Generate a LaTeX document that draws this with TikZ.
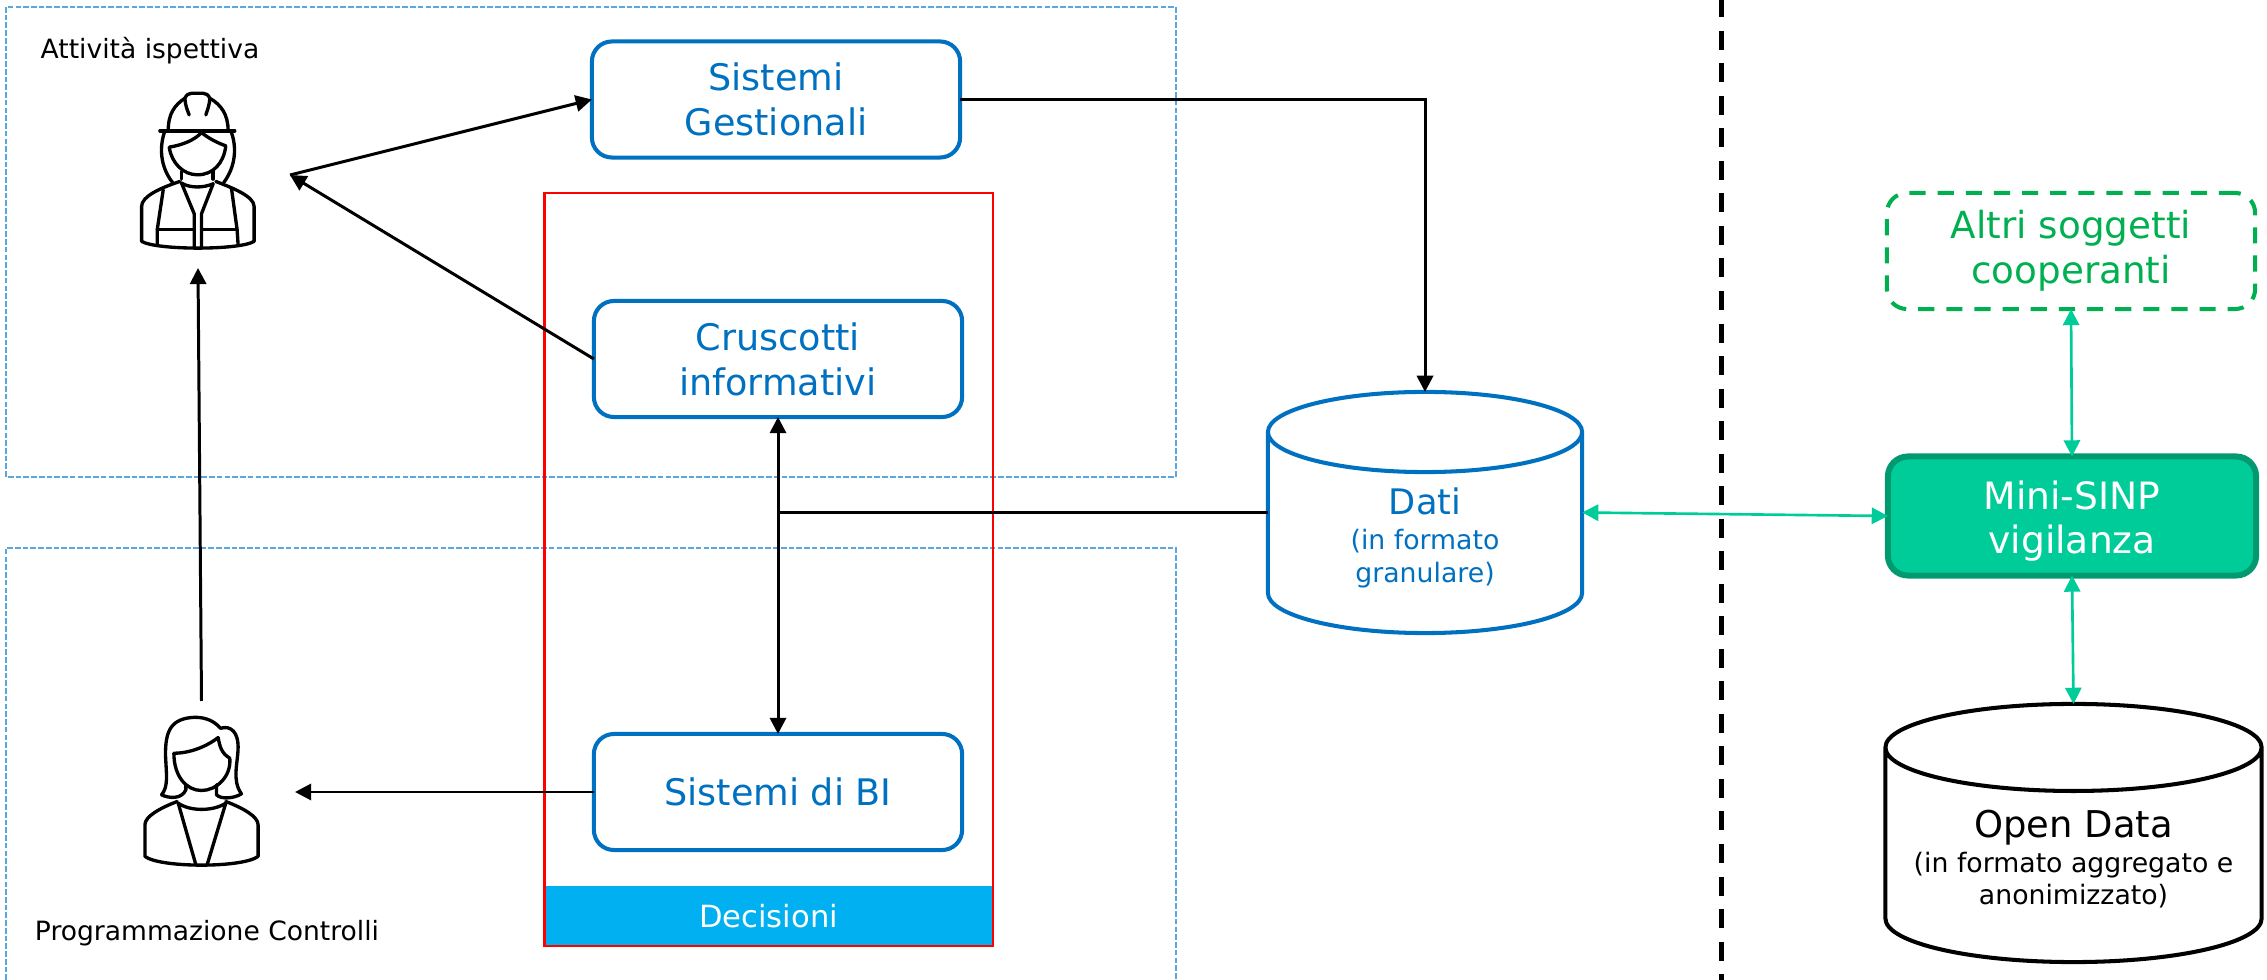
\documentclass[tikz,border=0pt]{standalone}
\usepackage{fontspec}
\setmainfont{DejaVu Sans}
\usepackage{tikz}
\usetikzlibrary{calc,arrows.meta,shapes.geometric,positioning}
\definecolor{sinpblue}{HTML}{0070C0}
\definecolor{zoneblue}{HTML}{5BA7DD}
\definecolor{bandblue}{HTML}{00B0F0}
\definecolor{sinpgreen}{HTML}{00CC99}
\definecolor{sinpdark}{HTML}{009970}
\definecolor{othergreen}{HTML}{00B050}
\newcommand{\dbsmall}{\fontsize{7.6}{9}\selectfont}

\begin{document}
\begin{tikzpicture}[x=0.01cm,y=-0.01cm]

\tikzset{bluenode/.style={font=\fontsize{10.4}{12.8}\selectfont,text=sinpblue,draw=sinpblue,line width=1.15pt,rounded corners=2mm,minimum width=3.68cm,minimum height=1.16cm,inner sep=0pt,outer sep=0pt,align=center,shape=rectangle},
zone/.style={draw=zoneblue,line width=0.4pt,dash pattern=on 1.6pt off 0.6pt},
dbnode/.style={shape=cylinder,shape border rotate=90,anchor=shape center,inner sep=0pt,outer sep=0pt,line width=1.15pt},
dbtext/.style={inner sep=0pt,align=center},
caption/.style={font=\fontsize{7.55}{9}\selectfont,inner sep=0pt},
blackline/.style={line width=0.85pt},
blackarrow/.style={blackline,-{Triangle[length=4.6pt,width=4.6pt]}},
bothways/.style={blackline,{Triangle[length=4.6pt,width=4.6pt]}-{Triangle[length=4.6pt,width=4.6pt]}},
greenway/.style={color=sinpgreen,line width=0.75pt,{Triangle[length=4.6pt,width=4.6pt]}-{Triangle[length=4.6pt,width=4.6pt]}},
iconline/.style={line width=0.95pt,line cap=round,line join=round}}

\useasboundingbox (0,0) rectangle (2267,980);

% Zones
\draw[zone] (6,7) rectangle (1176,477);
\draw[zone] (6,980) -- (6,548) -- (1176,548) -- (1176,980);
\node[caption,anchor=base] (ispettiva) at (150,59) {Attività ispettiva};
\node[caption,anchor=base] (controlli) at (207,940) {Programmazione Controlli};

% Decisions frame
\node[fill=bandblue,text=white,font=\fontsize{8.7}{10}\selectfont,minimum width=4.49cm,minimum height=0.6cm,inner sep=0pt] (decisioni) at (768.5,916) {Decisioni};
\draw[red,line width=0.6pt] (544.5,193) rectangle (993,946);

% Systems
\node[bluenode] (gestionali) at (776,99.5) {Sistemi\\Gestionali};
\node[bluenode] (cruscotti) at (778,359) {Cruscotti\\informativi};
\node[bluenode] (bi) at (778,792) {Sistemi di BI};

% Databases
\node[dbnode,draw=sinpblue,aspect=0.267,minimum width=3.14cm,minimum height=2.41cm] (dati) at (1425,512.5) {\hspace*{3cm}};
\node[dbtext,text=sinpblue,font=\fontsize{10}{12}\selectfont] (datitext) at (1425,538) {Dati\\[-2pt]{\dbsmall (in formato}\\[-2.7pt]{\dbsmall granulare)}};
\node[dbnode,draw=black,aspect=0.2417,minimum width=3.76cm,minimum height=2.58cm] (opendata) at (2073.5,833) {\hspace*{3.6cm}};
\node[dbtext,font=\fontsize{10.5}{12}\selectfont] (opentext) at (2073.5,859) {Open Data\\[-2pt]{\dbsmall (in formato aggregato e}\\[-2.7pt]{\dbsmall anonimizzato)}};

% Right column
\node[draw=sinpdark,fill=sinpgreen,text=white,line width=1.7pt,rounded corners=2mm,minimum width=3.68cm,minimum height=1.19cm,inner sep=0pt,outer sep=0pt,align=center,font=\fontsize{10.7}{12.4}\selectfont] (minisinp) at (2072,516) {\rule{0pt}{11pt}Mini-SINP\\vigilanza};
\node[draw=othergreen,text=othergreen,line width=1.15pt,dash pattern=on 4.6pt off 3.4pt,rounded corners=2mm,minimum width=3.68cm,minimum height=1.16cm,inner sep=0pt,outer sep=0pt,align=center,font=\fontsize{10.6}{12.8}\selectfont] (altri) at (2071,251) {Altri soggetti\\cooperanti};

% Boundary
\coordinate (boundtop) at (1721.5,0);
\coordinate (boundbottom) at (1721.5,980);
\draw[line width=1.3pt,dash pattern=on 5.4pt off 3.85pt,dash phase=0.5pt] (boundtop) -- (boundbottom);

% Worker
\begin{scope}[shift={(100,60)},x=0.00333cm,y=-0.00333cm,iconline]
\draw (180,213) -- (405,213);
\draw (205,213) .. controls (205,160) and (225,135) .. (255,115) .. controls (260,105) and (265,100) .. (275,100) -- (310,100) .. controls (320,100) and (325,105) .. (330,115) .. controls (365,135) and (385,165) .. (385,213);
\draw (255,115) .. controls (256,135) and (262,150) .. (268,165);
\draw (330,115) .. controls (329,135) and (323,150) .. (318,165);
\draw (195,213) .. controls (178,260) and (180,320) .. (218,368);
\draw (393,213) .. controls (412,260) and (408,320) .. (372,368);
\draw (208,262) .. controls (250,255) and (285,240) .. (305,218) .. controls (325,235) and (355,250) .. (378,258) .. controls (372,310) and (340,345) .. (293,345) .. controls (250,345) and (215,310) .. (208,262);
\draw (245,335) -- (245,358); \draw (340,335) -- (340,358);
\draw (245,370) .. controls (270,385) and (310,385) .. (340,372);
\draw (240,365) .. controls (180,385) and (125,410) .. (125,440) -- (125,545) .. controls (170,572) and (420,572) .. (463,545) -- (463,440) .. controls (463,410) and (400,385) .. (348,365);
\draw (190,390) -- (172,510) -- (172,555); \draw (395,385) -- (412,510) -- (415,555);
\draw (245,370) -- (283,462) -- (283,565); \draw (340,372) -- (305,462) -- (305,565);
\draw (172,510) -- (283,510); \draw (305,510) -- (412,510);
\end{scope}
\coordinate (workertip) at (290,175);
\coordinate (workerbase) at (198,268);

% Manager
\begin{scope}[shift={(100,690)},x=0.00333cm,y=-0.00333cm,iconline]
\draw (185,315) .. controls (205,290) and (200,260) .. (197,200) .. controls (195,120) and (215,85) .. (285,82) .. controls (320,82) and (345,95) .. (362,115) .. controls (395,105) and (415,130) .. (415,170) .. controls (415,220) and (395,270) .. (425,312) .. controls (405,325) and (365,330) .. (350,315) -- (350,285);
\draw (185,315) .. controls (205,325) and (245,330) .. (258,300) -- (258,285);
\draw (222,190) .. controls (270,190) and (320,170) .. (355,143) .. controls (360,170) and (365,190) .. (390,205) .. controls (395,260) and (350,302) .. (305,302) .. controls (260,302) and (222,260) .. (222,190);
\draw (235,340) .. controls (270,365) and (340,365) .. (378,340);
\draw (232,335) .. controls (180,355) and (135,380) .. (135,405) -- (135,500) .. controls (180,535) and (430,535) .. (475,500) -- (475,405) .. controls (475,380) and (430,355) .. (378,335);
\draw (235,340) -- (288,525); \draw (378,340) -- (322,525);
\end{scope}
\coordinate (managertop) at (201.5,701);
\coordinate (managertip) at (295,792);

% Edges
\draw[blackarrow] (workertip) -- (gestionali.west);
\draw[blackarrow] (cruscotti.west) -- (workertip);
\draw[blackarrow] (managertop) -- (workerbase);
\draw[blackarrow] (bi.west) -- (managertip);
\draw[bothways] (cruscotti.south) -- (bi.north);
\draw[blackline] (dati.west |- dati.shape center) -- (cruscotti.south |- dati.shape center);
\draw[blackarrow] (gestionali.east) -| (dati.north);
\draw[greenway] (dati.east |- dati.shape center) -- (minisinp.west);
\draw[greenway] (altri.south) -- (minisinp.north);
\draw[greenway] (minisinp.south) -- (opendata.north);

\end{tikzpicture}
\end{document}
